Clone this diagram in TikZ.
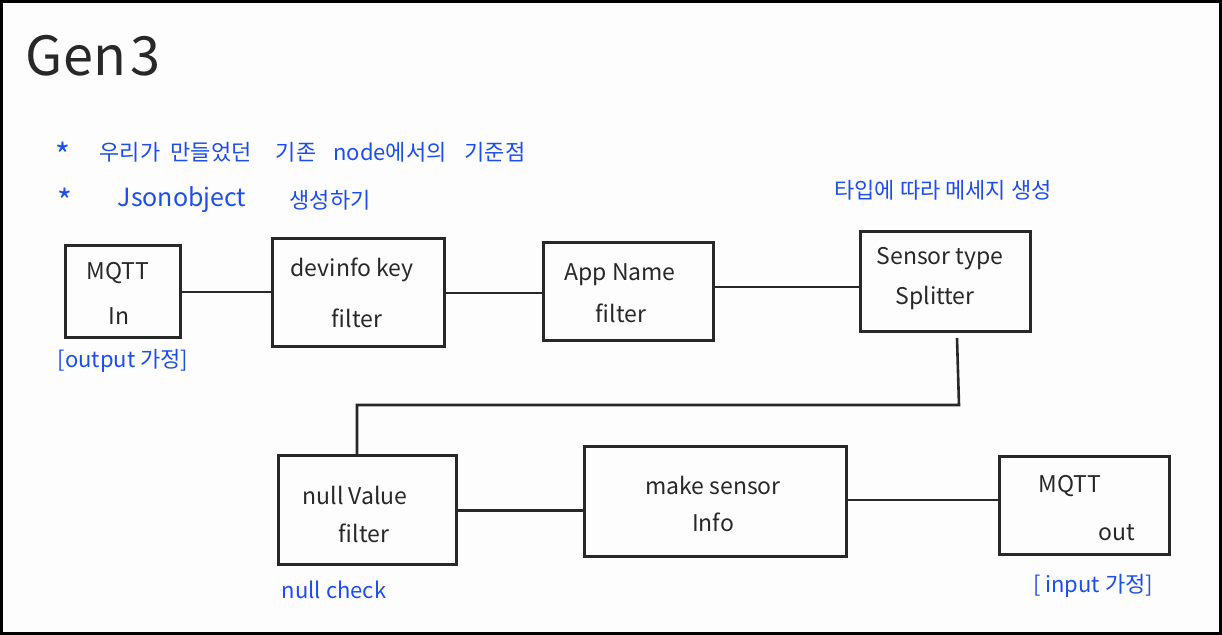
\documentclass[tikz,border=0pt]{standalone}
\usepackage{fontspec}
\setmainfont{Noto Sans CJK KR}
\definecolor{ink}{RGB}{40,40,40}
\definecolor{blueink}{RGB}{30,78,232}
\definecolor{paper}{RGB}{253,253,253}
\tikzset{
  box/.style={draw=ink, line width=1.5pt, rectangle, inner sep=0pt},
  boxtext/.style={text=ink, font=\fontsize{11.5}{14}\selectfont, inner sep=0pt},
  note/.style={text=blueink, font=\fontsize{11}{13}\selectfont, inner sep=0pt},
  star/.style={text=blueink, font=\fontsize{16}{18}\selectfont, inner sep=0pt},
  wire/.style={draw=ink, line width=1.3pt},
}
\begin{document}
\begin{tikzpicture}[x=0.5pt,y=-0.5pt]
\useasboundingbox (0,0) rectangle (1222,635);
\filldraw[fill=paper, draw=black, line width=1.5pt] (1.5,1.5) rectangle (1220.5,633.5);

\node[text=ink, font=\fontsize{27}{30}\selectfont, inner sep=0pt] (title) at (93,56) {Gen\kern2pt 3};

% blue notes
\node[star] (s1) at (63,155) {*};
\node[note] (n1a) at (130,152) {우리가};
\node[note] (n1b) at (211,152) {만들었던};
\node[note] (n1c) at (296,152) {기존};
\node[note] (n1d) at (390,152) {node에서의};
\node[note] (n1e) at (495,152) {기준점};
\node[star] (s2) at (65,201) {*};
\node[note, font=\fontsize{12.5}{14}\selectfont] (n2a) at (182,200) {Jsonobject};
\node[note] (n2b) at (330,200) {생성하기};
\node[note] (n3) at (943,190) {타입에 따라 메세지 생성};
\node[note] (n4) at (123,361) {[output 가정]};
\node[note] (n5) at (334,590) {null check};
\node[note] (n6) at (1093,586) {[ input 가정]};

% boxes
\node[box, minimum width=57.5pt, minimum height=46pt] (mqttin) at (122.5,292) {};
\node[box, minimum width=86pt, minimum height=54pt] (devinfo) at (358,293) {};
\node[box, minimum width=85pt, minimum height=49pt] (app) at (628,292) {};
\node[box, minimum width=85pt, minimum height=50pt] (sensor) at (945,282) {};
\node[box, minimum width=89pt, minimum height=54.5pt] (null) at (367,510.5) {};
\node[box, minimum width=131pt, minimum height=55pt] (make) at (715,502) {};
\node[box, minimum width=85pt, minimum height=49pt] (out) at (1084,506) {};

% box texts
\node[boxtext] (t1a) at (118,273) {MQTT};
\node[boxtext] (t1b) at (119,316) {In};
\node[boxtext] (t2a) at (352,270) {devinfo key};
\node[boxtext] (t2b) at (357,318) {filter};
\node[boxtext] (t3a) at (620,275) {App Name};
\node[boxtext] (t3b) at (621,313) {filter};
\node[boxtext] (t4a) at (940,259) {Sensor type};
\node[boxtext] (t4b) at (935,298) {Splitter};
\node[boxtext] (t5a) at (355,495) {null Value};
\node[boxtext] (t5b) at (364,533) {filter};
\node[boxtext] (t6a) at (713,485) {make sensor};
\node[boxtext] (t6b) at (713,522) {Info};
\node[boxtext] (t7a) at (1070,486) {MQTT};
\node[boxtext] (t7b) at (1117,533) {out};

% connectors
\coordinate (sa) at (957,338);
\coordinate (sb) at (959,405);
\coordinate (nn) at (357,456);
\draw[wire] (mqttin.east) -- (mqttin.east -| devinfo.west);
\draw[wire] (devinfo.east) -- (devinfo.east -| app.west);
\draw[wire] ([yshift=2.5pt]app.east) -- ([yshift=2.5pt]app.east -| sensor.west);
\draw[wire] (sa) -- (sb) -| (nn);
\draw[wire] (null.east) -- (null.east -| make.west);
\draw[wire] ([yshift=1pt]make.east) -- ([yshift=1pt]make.east -| out.west);
\end{tikzpicture}
\end{document}
